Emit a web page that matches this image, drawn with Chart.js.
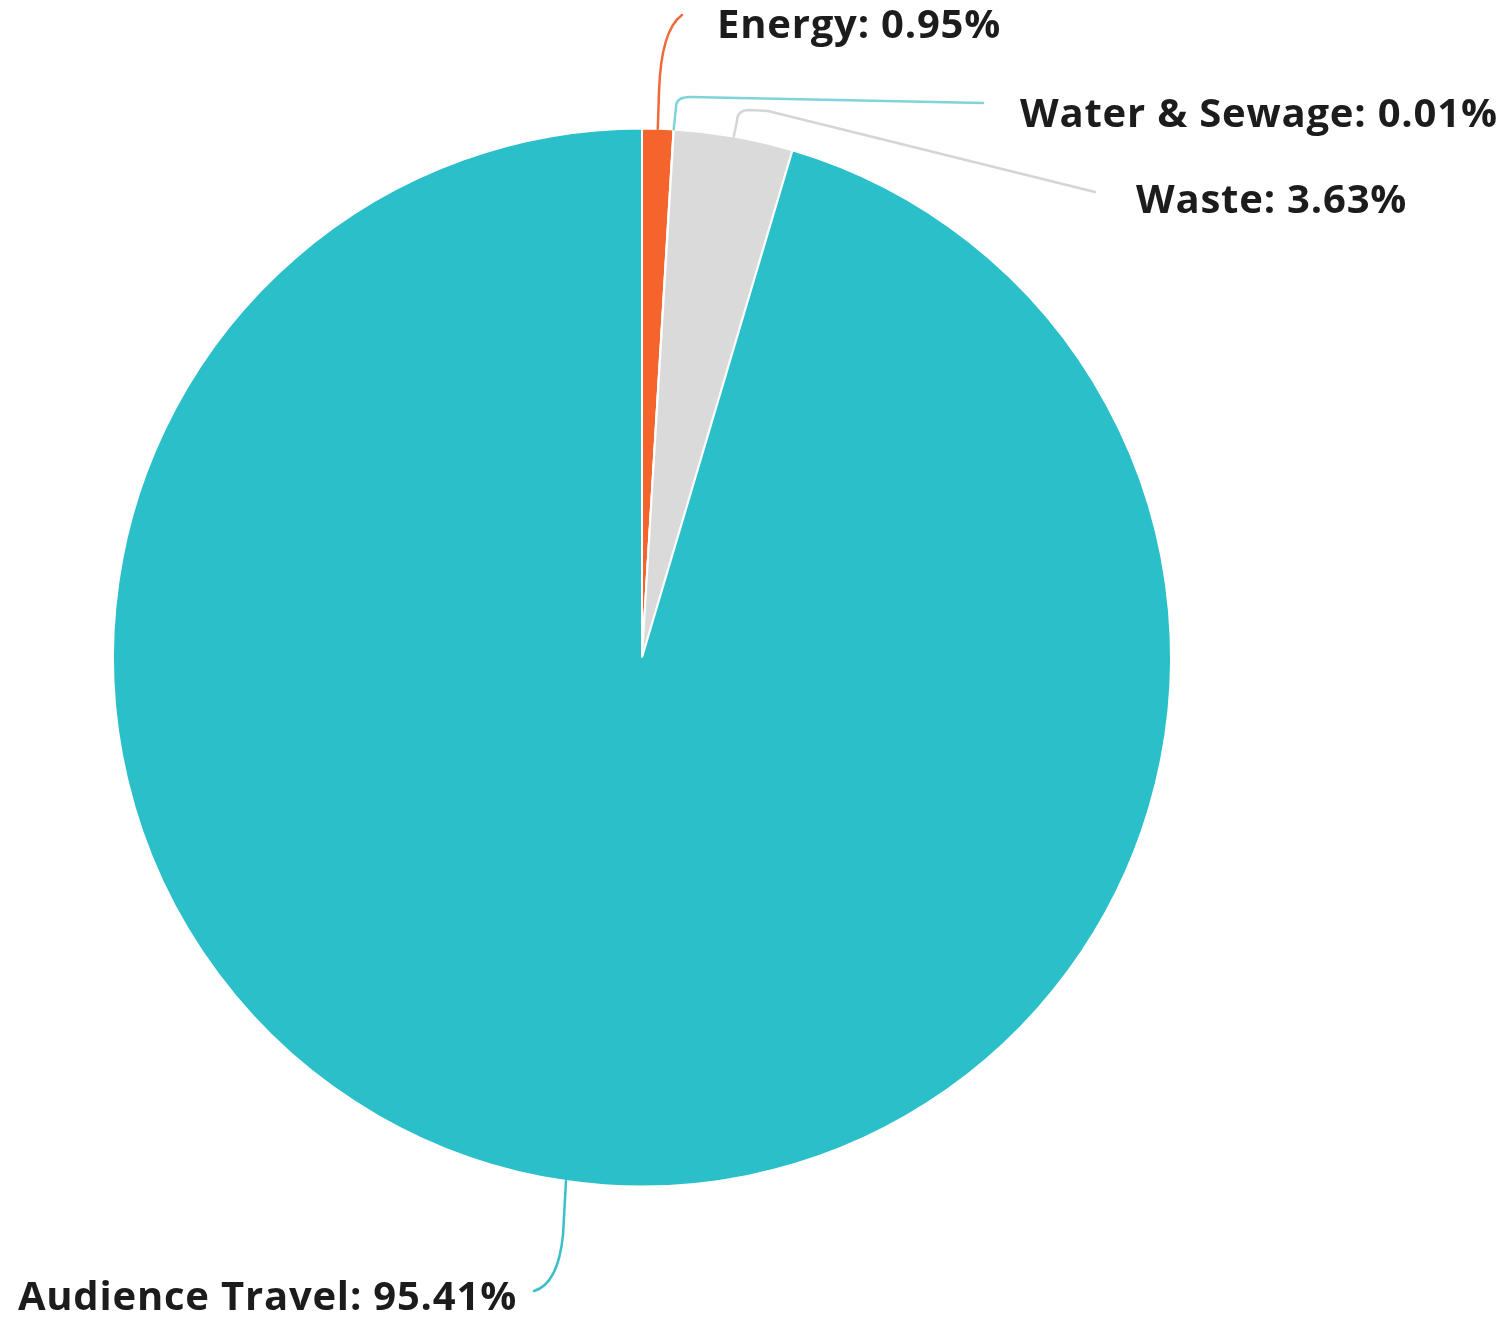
<!DOCTYPE html>
<html>
<head>
<meta charset="utf-8">
<script src="https://cdn.jsdelivr.net/npm/chart.js@4"></script>
<style>
  html, body { margin: 0; padding: 0; background: #fff; }
  canvas { display: block; }
</style>
</head>
<body>
<canvas id="chartPie" width="1506" height="1321"></canvas>
<script>
// valores (%)
const categorias = ["Energy", "Water & Sewage", "Waste", "Audience Travel"];
const percentuais = [0.95, 0.01, 3.63, 95.41];
const coresFatias = ["#f4642d", "#74d1d7", "#d9dad9", "#2bbfc9"];
const coresLinhas = ["#ef6a3a", "#7fd4d9", "#d4d5d4", "#3bbfc9"];

// posicao dos rotulos (linha de base) e das linhas guia
const rotulos = [
    { x: 717, y: 38, align: "left", bend: [659, 92], ctrl: [661, 30], to: [682, 15], tail: [] },
    { x: 1020, y: 127, align: "left", bend: [676, 107], ctrl: [676, 97], to: [690, 97], tail: [[983, 103]] },
    { x: 1136, y: 213, align: "left", bend: [737, 121], ctrl: [737, 110], to: [750, 110], tail: [[768, 111], [1095, 192]] },
    { x: 517, y: 1310, align: "right", bend: [563, 1235], ctrl: [558, 1284], to: [534, 1291], tail: [] },
];

const labelsPlugin = {
    id: "rotulosExternos",
    afterDatasetsDraw(chart) {
        const ctx = chart.ctx;
        const arcs = chart.getDatasetMeta(0).data;
        ctx.save();
        arcs.forEach((arc, i) => {
            const r = rotulos[i];
            const p = arc.getProps(["x", "y", "startAngle", "endAngle", "outerRadius"], true);
            const mid = (p.startAngle + p.endAngle) / 2;
            const ax = p.x + Math.cos(mid) * p.outerRadius;
            const ay = p.y + Math.sin(mid) * p.outerRadius;

            ctx.beginPath();
            ctx.moveTo(ax, ay);
            ctx.lineTo(r.bend[0], r.bend[1]);
            ctx.quadraticCurveTo(r.ctrl[0], r.ctrl[1], r.to[0], r.to[1]);
            r.tail.forEach((pt) => ctx.lineTo(pt[0], pt[1]));
            ctx.strokeStyle = coresLinhas[i];
            ctx.lineWidth = 2.5;
            ctx.lineJoin = "round";
            ctx.lineCap = "round";
            ctx.stroke();

            ctx.font = "bold 40px 'Open Sans'";
            ctx.letterSpacing = "0.8px";
            ctx.fillStyle = "#1c1c1c";
            ctx.textAlign = r.align;
            ctx.textBaseline = "alphabetic";
            ctx.fillText(categorias[i] + ": " + percentuais[i].toFixed(2) + "%", r.x, r.y);
        });
        ctx.restore();
    },
};

new Chart(document.getElementById("chartPie").getContext("2d"), {
    type: "pie",
    data: {
        labels: categorias,
        datasets: [
            {
                data: percentuais,
                backgroundColor: coresFatias,
                borderColor: "#ffffff",
                borderWidth: 2,
            },
        ],
    },
    options: {
        responsive: false,
        animation: false,
        layout: { padding: { left: 112, right: 334, top: 127, bottom: 133 } },
        plugins: {
            legend: { display: false },
            tooltip: { enabled: false },
        },
    },
    plugins: [labelsPlugin],
});
</script>
</body>
</html>
